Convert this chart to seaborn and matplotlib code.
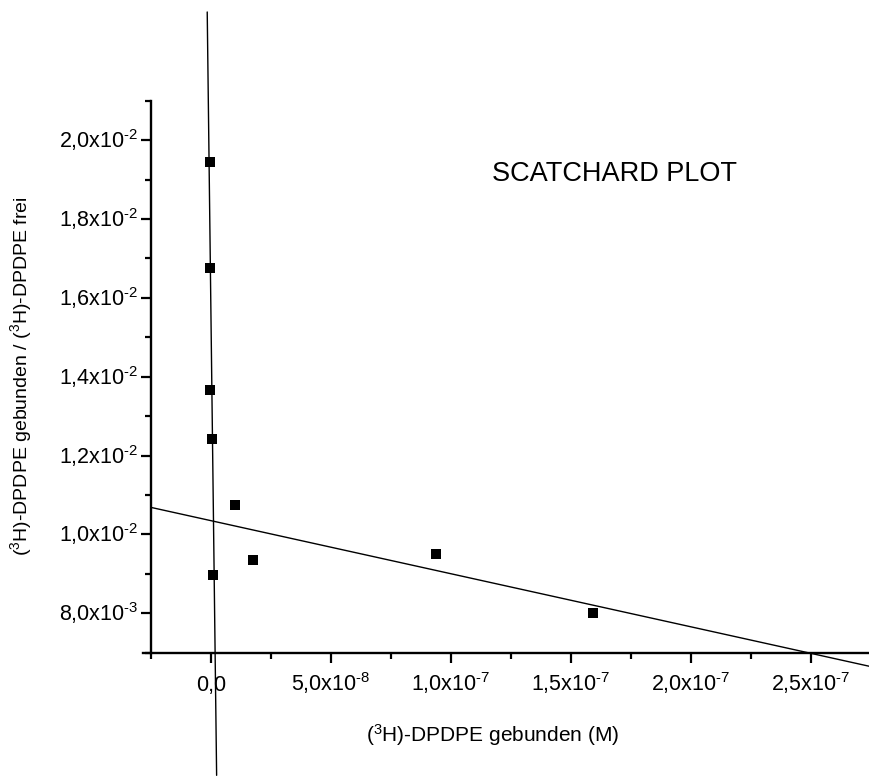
import numpy as np
import pandas as pd
import matplotlib
matplotlib.use("Agg")
import matplotlib.pyplot as plt
import seaborn as sns
from matplotlib.ticker import FixedLocator, MultipleLocator

# ---------------- data ----------------
bound_M = [-5.4e-10, -5.4e-10, -4.2e-10, 2.9e-10, 9.9e-9, 1.76e-8, 9.6e-10, 9.36e-8, 1.59e-7]
ratio = [0.019434, 0.016745, 0.013658, 0.012414, 0.010740, 0.009362, 0.008964, 0.009515, 0.008008]
site = ["high", "high", "high", "high", "low", "low", "high", "low", "low"]

# steep (high-affinity) fit line as drawn in the reference
steep_slope = -4.944e6
steep_intercept = 0.015633
steep_y_range = [0.00389, 0.02325]

x_ticks = [0.0, 5e-8, 1e-7, 1.5e-7, 2e-7, 2.5e-7]
x_tick_labels = ["0,0", r"5,0x10$^{\text{-}8}$", r"1,0x10$^{\text{-}7}$", r"1,5x10$^{\text{-}7}$",
                 r"2,0x10$^{\text{-}7}$", r"2,5x10$^{\text{-}7}$"]
y_ticks = [8e-3, 1.0e-2, 1.2e-2, 1.4e-2, 1.6e-2, 1.8e-2, 2.0e-2]
y_tick_labels = [r"8,0x10$^{\text{-}3}$", r"1,0x10$^{\text{-}2}$", r"1,2x10$^{\text{-}2}$",
                 r"1,4x10$^{\text{-}2}$", r"1,6x10$^{\text{-}2}$", r"1,8x10$^{\text{-}2}$",
                 r"2,0x10$^{\text{-}2}$"]

title_text = "SCATCHARD PLOT"
x_label = r"($^3$H)-DPDPE gebunden (M)"
y_label = r"($^3$H)-DPDPE gebunden / ($^3$H)-DPDPE frei"

df = pd.DataFrame({"bound": bound_M, "ratio": ratio, "site": site})

# ---------------- style ----------------
sns.set_theme(style="ticks")
plt.rcParams["font.family"] = ["Liberation Sans", "DejaVu Sans"]
plt.rcParams["mathtext.fontset"] = "custom"
plt.rcParams["mathtext.rm"] = "Liberation Sans"
plt.rcParams["mathtext.it"] = "Liberation Sans:italic"
plt.rcParams["mathtext.bf"] = "Liberation Sans:bold"
plt.rcParams["mathtext.default"] = "regular"
for k in ["text.color", "axes.labelcolor", "xtick.color", "ytick.color", "axes.edgecolor"]:
    plt.rcParams[k] = "black"

W, H = 869, 776
fig = plt.figure(figsize=(W / 100, H / 100), dpi=100)
ax_l, ax_r, ax_t, ax_b = 143, 869, 100.7, 652.7
ax = fig.add_axes([ax_l / W, 1 - ax_b / H, (ax_r - ax_l) / W, (ax_b - ax_t) / H])

x_left_spine = -2.5e-8
x_min, x_max = -2.83e-8, 2.742e-7
y_min, y_max = 0.007, 0.021

# low-affinity regression line spans from the left spine to the right edge
ax.set_xlim(x_left_spine, x_max)
ax.set_ylim(y_min, y_max)
sns.regplot(data=df[df["site"] == "low"], x="bound", y="ratio", ci=None, scatter=False,
            truncate=False, color="black", line_kws=dict(lw=1.0, clip_on=False), ax=ax)

# steep line
sy = np.array(steep_y_range)
sx = (sy - steep_intercept) / steep_slope
ax.plot(sx, sy, color="black", lw=1.0, clip_on=False)

# points
sns.scatterplot(data=df, x="bound", y="ratio", marker="s", s=52, color="black",
                edgecolor="black", linewidth=0, ax=ax, zorder=5, clip_on=False)

ax.set_xlim(x_min, x_max)
ax.set_ylim(y_min, y_max)

# spines
for s in ["top", "right"]:
    ax.spines[s].set_visible(False)
ax.spines["left"].set_position(("data", x_left_spine))
for s in ["left", "bottom"]:
    ax.spines[s].set_linewidth(1.7)

ax.xaxis.set_major_locator(FixedLocator(x_ticks))
ax.xaxis.set_minor_locator(MultipleLocator(2.5e-8))
ax.yaxis.set_major_locator(FixedLocator(y_ticks))
ax.yaxis.set_minor_locator(MultipleLocator(1e-3))
ax.set_xticks(x_ticks)
ax.set_xticklabels(x_tick_labels)
ax.set_yticks(y_ticks)
ax.set_yticklabels(y_tick_labels)

ax.tick_params(which="major", direction="out", length=7.5, width=1.6, labelsize=15.5)
ax.tick_params(which="minor", direction="out", length=4.6, width=1.6)
ax.tick_params(axis="x", which="major", pad=20)
ax.tick_params(axis="y", which="major", pad=1.5)
for lbl in ax.get_xticklabels():
    lbl.set_va("baseline")
for lbl in ax.get_yticklabels():
    lbl.set_va("center")

ax.set_xlabel(x_label, fontsize=15)
ax.set_ylabel(y_label, fontsize=14)
ax.xaxis.set_label_coords((492.5 - ax_l) / (ax_r - ax_l), (ax_b - 735) / (ax_b - ax_t))
ax.yaxis.set_label_coords((21.5 - ax_l) / (ax_r - ax_l), (ax_b - 376) / (ax_b - ax_t))
ax.xaxis.label.set_va("center")
ax.yaxis.label.set_va("center")

fig.text(615 / W, 1 - 174 / H, title_text, ha="center", va="center", fontsize=19.5)

fig.savefig("out.png", dpi=100)
